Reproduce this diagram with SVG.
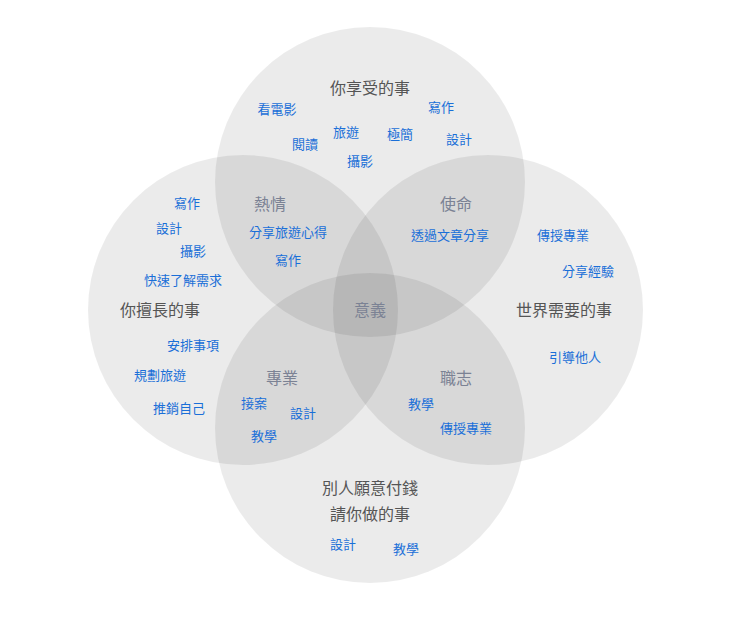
<svg xmlns="http://www.w3.org/2000/svg" width="740" height="618" viewBox="0 0 740 618">
<style>
.c{fill:#000;fill-opacity:0.08}
text{font-family:"Noto Sans CJK TC","Noto Sans CJK SC",sans-serif;text-anchor:middle}
.t{fill:#555;font-size:16px}
.r{fill:#7b8294;font-size:16px}
.i{fill:#1a6fd8;font-size:13px}
</style>
<rect width="740" height="618" fill="#fff"/>
<g id="circles">
<circle class="c" cx="370" cy="182" r="155"/>
<circle class="c" cx="243" cy="310" r="155"/>
<circle class="c" cx="488" cy="310" r="155"/>
<circle class="c" cx="370" cy="428" r="155"/>
</g>
<g id="titles">
<text class="t" x="370" y="94">你享受的事</text>
<text class="t" x="160" y="316">你擅長的事</text>
<text class="t" x="564" y="316">世界需要的事</text>
<text class="t" x="370" y="494">別人願意付錢</text>
<text class="t" x="370" y="520">請你做的事</text>
</g>
<g id="regions">
<text class="r" x="270" y="210">熱情</text>
<text class="r" x="456" y="210">使命</text>
<text class="r" x="370" y="316">意義</text>
<text class="r" x="282" y="384">專業</text>
<text class="r" x="456" y="384">職志</text>
</g>
<g id="items">
<text class="i" x="277" y="114">看電影</text>
<text class="i" x="441" y="112">寫作</text>
<text class="i" x="346" y="137">旅遊</text>
<text class="i" x="400" y="139">極簡</text>
<text class="i" x="305" y="149">閱讀</text>
<text class="i" x="459" y="144">設計</text>
<text class="i" x="360" y="166">攝影</text>
<text class="i" x="187" y="208">寫作</text>
<text class="i" x="169" y="233">設計</text>
<text class="i" x="193" y="256">攝影</text>
<text class="i" x="183" y="285">快速了解需求</text>
<text class="i" x="288" y="237">分享旅遊心得</text>
<text class="i" x="288" y="265">寫作</text>
<text class="i" x="450" y="240">透過文章分享</text>
<text class="i" x="563" y="240">傳授專業</text>
<text class="i" x="588" y="276">分享經驗</text>
<text class="i" x="575" y="362">引導他人</text>
<text class="i" x="193" y="350">安排事項</text>
<text class="i" x="160" y="380">規劃旅遊</text>
<text class="i" x="179" y="413">推銷自己</text>
<text class="i" x="254" y="408">接案</text>
<text class="i" x="303" y="418">設計</text>
<text class="i" x="264" y="441">教學</text>
<text class="i" x="421" y="409">教學</text>
<text class="i" x="466" y="433">傳授專業</text>
<text class="i" x="343" y="549">設計</text>
<text class="i" x="406" y="554">教學</text>
</g>
</svg>
